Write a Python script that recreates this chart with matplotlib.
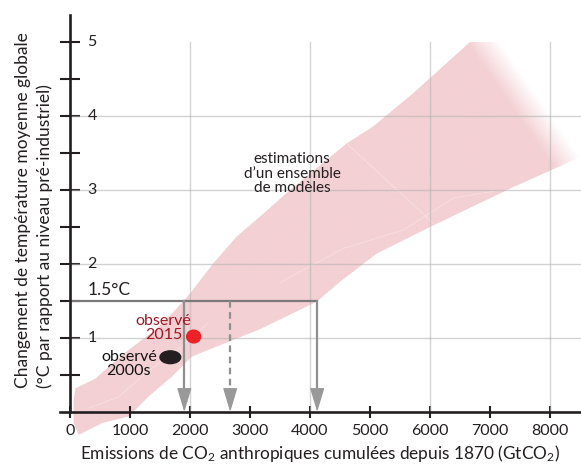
import numpy as np
import matplotlib.pyplot as plt
from matplotlib.patches import Polygon, Ellipse

plt.rcParams['font.family'] = ['Lato', 'DejaVu Sans']
plt.rcParams['mathtext.fontset'] = 'custom'
plt.rcParams['mathtext.rm'] = 'Lato'
plt.rcParams['mathtext.it'] = 'Lato:italic'

# enveloppe du panache des modèles (GtCO2, °C)
upper_x = [89, 422, 644, 978, 1422, 1756, 2000, 2389, 2778, 3222, 3667, 4611, 5055, 5722, 6667, 8517]
upper_y = [0.32, 0.45, 0.61, 0.84, 1.11, 1.38, 1.6, 2.01, 2.37, 2.68, 3.0, 3.63, 3.86, 4.31, 5.0, 5.0]
lower_x = [144, 533, 978, 1311, 1700, 2033, 3167, 4111, 4500, 5111, 6000, 7389, 8517]
lower_y = [-0.31, -0.15, -0.06, 0.21, 0.48, 0.75, 1.12, 1.49, 1.76, 2.14, 2.5, 3.04, 3.45]
left_x = [61, 61]
left_y = [0.16, -0.15]

# quelques trajectoires de modèles (lignes blanches pâles)
model_a_x = [4611, 6056]
model_a_y = [3.63, 2.55]
model_b_x = [3500, 4556, 5556, 6389, 7167]
model_b_y = [1.75, 2.21, 2.46, 2.89, 3.0]
model_c_x = [300, 800, 1300, 1800, 2300]
model_c_y = [0.05, 0.2, 0.55, 0.85, 1.2]

# observations
obs_x = [1672, 2061]
obs_y = [0.74, 1.02]
obs_labels = ['observé\n2000s', 'observé\n2015']

# budgets 1.5 °C
budget_x = [1905, 2670, 4120]
budget_style = ['-', '--', '-']
target = 1.5

x_ticks = list(range(0, 9000, 1000))
y_ticks = [1, 2, 3, 4, 5]
y_minor = [0.5, 1.5, 2.5, 3.5, 4.5]

pink = np.array([243, 208, 211]) / 255

fig = plt.figure(figsize=(5.81, 4.66), dpi=100)
ax = fig.add_axes([0, 0, 1, 1])
ax.set_xlim(-1166.7, 8516.7)
ax.set_ylim(-0.7297, 5.5676)

# panache avec dégradé vers la droite
px = upper_x + [8517] + lower_x[::-1] + left_x[::-1]
py = upper_y + [3.45] + lower_y[::-1] + left_y[::-1]
poly = Polygon(np.column_stack([px, py]), closed=True, facecolor='none', edgecolor='none')
ax.add_patch(poly)
gx, gy = np.meshgrid(np.linspace(0, 8600, 500), np.linspace(-0.4, 5.1, 300))
u = gx + 860 * gy
fade = np.clip((11480 - u) / 560, 0, 1)
img = np.zeros(gx.shape + (4,))
img[..., :3] = pink
img[..., 3] = fade
im = ax.imshow(img, extent=[0, 8600, -0.4, 5.1], origin='lower', aspect='auto',
               interpolation='bilinear', zorder=1)
im.set_clip_path(poly)

for mx, my in [(model_a_x, model_a_y), (model_b_x, model_b_y), (model_c_x, model_c_y)]:
    l, = ax.plot(mx, my, color='white', lw=0.6, alpha=0.35, zorder=1.5)
    l.set_clip_path(poly)

# grille
for v in [1, 2, 3, 4]:
    ax.plot([0, 8517], [v, v], color='#b4b4b4', lw=1.0, alpha=0.6, zorder=2)
for v in [2000, 4000, 6000, 8000]:
    ax.plot([v, v], [0, 5.0], color='#b4b4b4', lw=1.0, alpha=0.6, zorder=2)

# axes
for s in ['top', 'right']:
    ax.spines[s].set_visible(False)
ax.spines['left'].set_position(('data', 0))
ax.spines['bottom'].set_position(('data', 0))
ax.spines['left'].set_bounds(0, 5.36)
ax.spines['bottom'].set_bounds(-170, 8517)
for s in ['left', 'bottom']:
    ax.spines[s].set_linewidth(1.9)
    ax.spines[s].set_color('#231f20')
    ax.spines[s].set_zorder(5)
ax.set_xticks(x_ticks)
ax.set_xticklabels([str(t) for t in x_ticks])
ax.tick_params(axis='x', direction='inout', length=9, width=1.5, color='#231f20',
               labelsize=11.5, pad=4, labelcolor='#231f20')
ax.set_yticks(y_ticks + y_minor)
ax.tick_params(axis='y', direction='inout', length=15, width=1.5, color='#231f20',
               labelleft=False)
for t in y_ticks:
    ax.text(290, t, str(t), ha='left', va='center', fontsize=11.5, color='#231f20')

# ligne 1.5 °C et flèches
ax.plot([0, max(budget_x)], [target, target], color='#7a7a7a', lw=1.6, zorder=3)
for bx, ls in zip(budget_x, budget_style):
    ax.plot([bx, bx], [target, 0.3], color='#8f8f8f', lw=1.6, ls=ls, zorder=3,
            dashes=(3, 2) if ls == '--' else (None, None))
    ax.annotate('', xy=(bx, 0), xytext=(bx, 0.3),
                arrowprops=dict(arrowstyle='-|>,head_length=1.5,head_width=0.45',
                                color='#999999', lw=1.0, shrinkA=0, shrinkB=0),
                zorder=3)
ax.text(290, 1.585, '1.5°C', ha='left', va='baseline', fontsize=12.5, color='#231f20')

# observations
ax.add_patch(Ellipse((obs_x[0], obs_y[0]), 345, 0.172, color='#231f20', zorder=4))
ax.add_patch(Ellipse((obs_x[1], obs_y[1]), 233, 0.172, color='#ec2227', zorder=4))
ax.text(980, 0.65, obs_labels[0], ha='center', va='center', fontsize=11.5,
        color='#111111', linespacing=1.0)
ax.text(1558, 1.13, obs_labels[1], ha='center', va='center', fontsize=11.5,
        color='#a3151f', linespacing=1.0)

ax.text(3700, 3.22, 'estimations\nd’un ensemble\nde modèles', ha='center', va='center',
        fontsize=11, color='#231f20', linespacing=1.05)

# titres des axes
fig.text(320 / 581, 1 - 453 / 466,
         'Emissions de CO$_2$ anthropiques cumulées depuis 1870 (GtCO$_2$)',
         ha='center', va='center', fontsize=12.4, color='#231f20')
fig.text(23 / 581, 1 - 388 / 466, 'Changement de température moyenne globale',
         rotation=90, rotation_mode='anchor', ha='left', va='center', fontsize=12.5,
         color='#231f20')
fig.text(45 / 581, 1 - 388 / 466, '(°C par rapport au niveau pré-industriel)',
         rotation=90, rotation_mode='anchor', ha='left', va='center', fontsize=12.5,
         color='#231f20')

fig.savefig('out.png', dpi=100)
